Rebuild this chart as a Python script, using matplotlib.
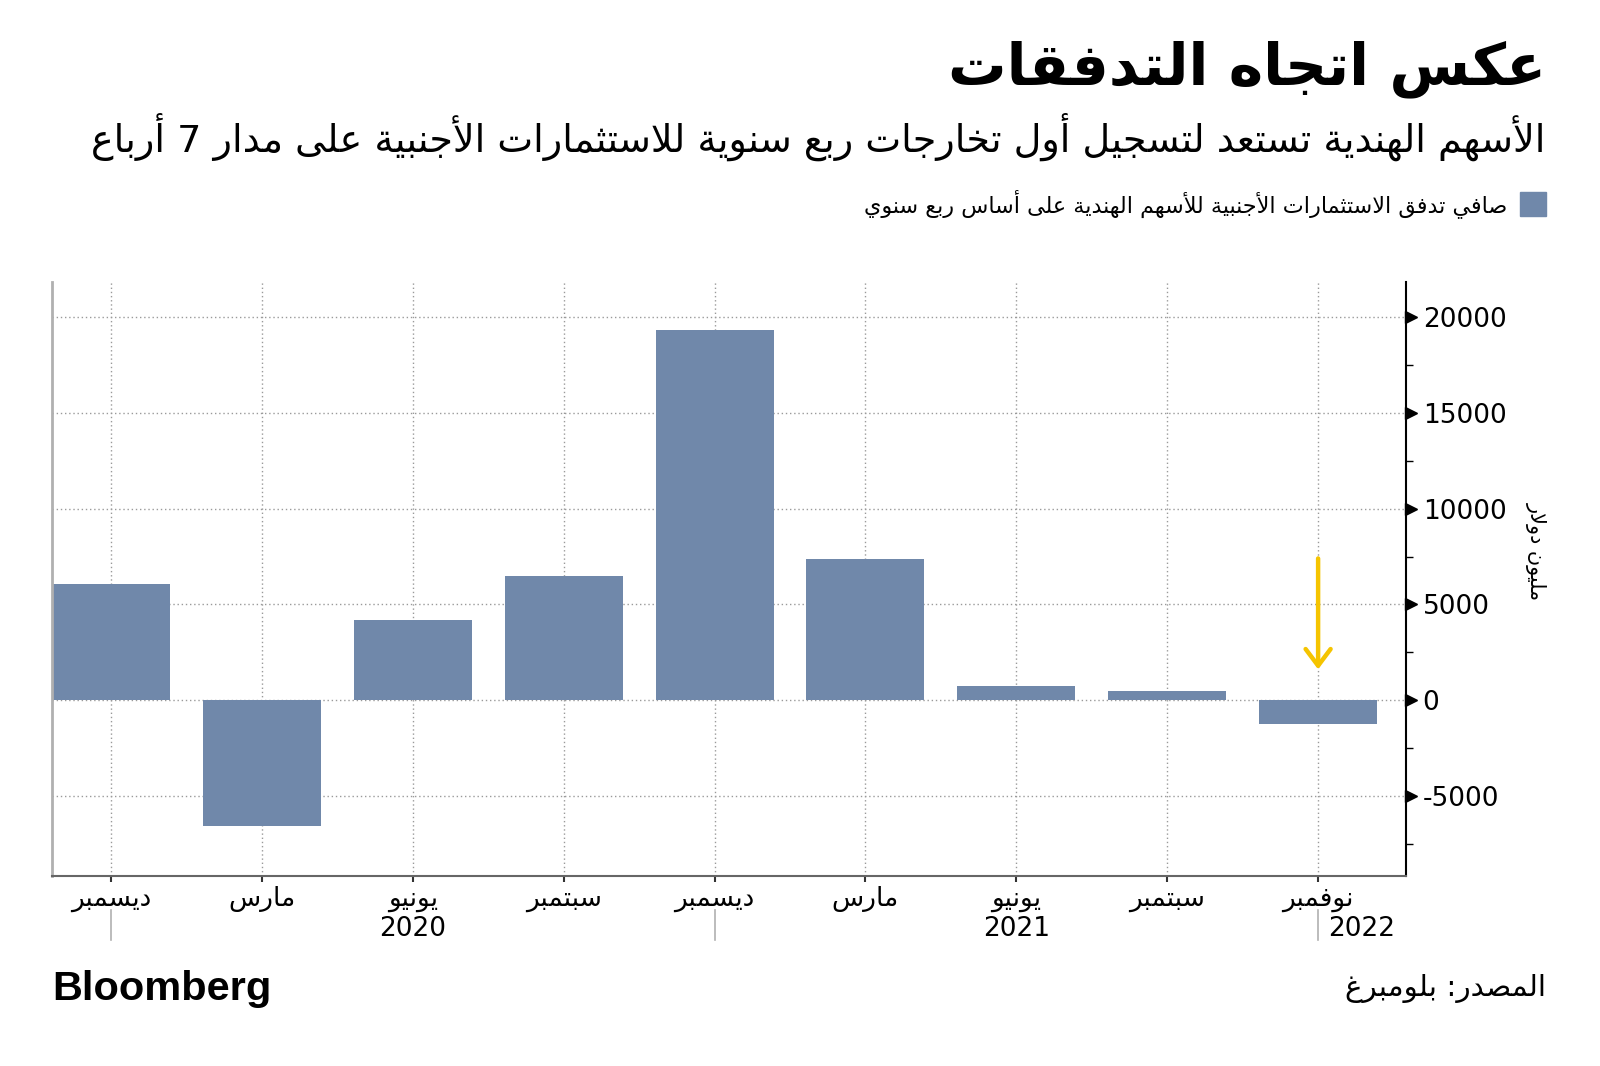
import re
import matplotlib
matplotlib.use('Agg')
import matplotlib.pyplot as plt
import matplotlib.transforms as mtransforms
from matplotlib.patches import Rectangle


# Chart data, million dollars per quarter
months = ['ديسمبر', 'مارس', 'يونيو', 'سبتمبر', 'ديسمبر', 'مارس', 'يونيو', 'سبتمبر', 'نوفمبر']
net_flows = [6080, -6600, 4170, 6500, 19350, 7370, 750, 450, -1270]
year_breaks = [0, 4, 8]
years = ['2020', '2021', '2022']
y_ticks = [-5000, 0, 5000, 10000, 15000, 20000]
y_minor = [-7500, -2500, 2500, 7500, 12500, 17500]
arrow_bar = 8
arrow_from = 7400
arrow_to = 1600

title = 'عكس اتجاه التدفقات'
subtitle = 'الأسهم الهندية تستعد لتسجيل أول تخارجات ربع سنوية للاستثمارات الأجنبية على مدار 7 أرباع'
legend_label = 'صافي تدفق الاستثمارات الأجنبية للأسهم الهندية على أساس ربع سنوي'
y_label = 'مليون دولار'
source = 'المصدر: بلومبرغ'

BAR_COLOR = '#7088aa'
ARROW_COLOR = '#f5c400'


# matplotlib does not shape Arabic, so map letters to presentation forms
# and reverse into visual order ourselves
LETTERS = 'ءآأؤإئابةتثجحخدذرزسشصضطظعغفقكلمنهوىي'
RIGHT_ONLY = 'آأؤإاةدذرزوى'
LAM_ALEF = {'آ': 0xFEF5, 'أ': 0xFEF7, 'إ': 0xFEF9, 'ا': 0xFEFB}
base = {}
code = 0xFE80
for ch in LETTERS:
    base[ch] = code
    code += 1 if ch == 'ء' else (2 if ch in RIGHT_ONLY else 4)


def joins_next(ch):
    return ch in base and ch not in RIGHT_ONLY and ch != 'ء'


def joins_prev(ch):
    return ch in base and ch != 'ء'


def shape(text):
    out = []
    i = 0
    while i < len(text):
        ch = text[i]
        if ch not in base:
            out.append(ch)
            i += 1
            continue
        p = i > 0 and joins_next(text[i - 1])
        nxt = text[i + 1] if i + 1 < len(text) else ''
        if ch == 'ل' and nxt in LAM_ALEF:
            out.append(chr(LAM_ALEF[nxt] + (1 if p else 0)))
            i += 2
            continue
        q = joins_next(ch) and joins_prev(nxt)
        b = base[ch]
        if ch == 'ء':
            out.append(chr(b))
        elif p and q:
            out.append(chr(b + 3))
        elif p:
            out.append(chr(b + 1))
        elif q:
            out.append(chr(b + 2))
        else:
            out.append(chr(b))
        i += 1
    return ''.join(out)


def ar(text):
    parts = re.findall(r'\d+|\D+', shape(text))
    return ''.join(p if p[0].isdigit() else p[::-1] for p in reversed(parts))


plt.rcParams['font.family'] = ['DejaVu Sans']

fig = plt.figure(figsize=(16, 10.66), dpi=100)
ax = fig.add_axes([0.0325, 0.1782, 0.8463, 0.5573])

x = list(range(len(net_flows)))
ax.bar(x, net_flows, width=0.782, color=BAR_COLOR, zorder=2)

ax.set_xlim(-0.391, len(x) - 1 + 0.583)
ax.set_ylim(-9200, 21850)

# grid
ax.grid(True, color='#9a9a9a', linestyle=(0, (1, 2)), linewidth=1, zorder=0)

# spines
ax.spines['top'].set_visible(False)
ax.spines['left'].set_color('#b0b0b0')
ax.spines['left'].set_linewidth(2)
ax.spines['bottom'].set_color('#666666')
ax.spines['bottom'].set_linewidth(1.5)
ax.spines['right'].set_color('black')
ax.spines['right'].set_linewidth(1.5)

# x axis
ax.set_xticks(x)
ax.set_xticklabels([ar(m) for m in months], fontsize=19)
ax.tick_params(axis='x', length=4, width=1.5, color='#333333', pad=3)

blend = mtransforms.blended_transform_factory(ax.transData, ax.transAxes)
for b in year_breaks:
    ax.plot([b, b], [-0.058, -0.108], transform=blend, color='#b0b0b0',
            lw=1.2, clip_on=False)
bounds = year_breaks + [ax.get_xlim()[1]]
for k, yr in enumerate(years):
    ax.text((bounds[k] + bounds[k + 1]) / 2, -0.089, yr, transform=blend,
            ha='center', va='center', fontsize=19)

# y axis on the right, triangle markers for the major ticks
ax.yaxis.tick_right()
ax.set_yticks(y_ticks)
ax.set_yticklabels([str(v) for v in y_ticks], fontsize=19)
ax.set_yticks(y_minor, minor=True)
ax.tick_params(axis='y', which='major', length=0, pad=12)
ax.tick_params(axis='y', which='minor', length=5, width=1, color='black')
ax.tick_params(axis='x', which='minor', length=0)
yblend = mtransforms.blended_transform_factory(ax.transAxes, ax.transData)
tri = mtransforms.offset_copy(yblend, fig=fig, x=5, units='dots')
ax.plot([1] * len(y_ticks), y_ticks, linestyle='none', marker='>',
        markersize=8, color='black', transform=tri, clip_on=False)

ax.text(1.096, 0.547, ar(y_label), transform=ax.transAxes, rotation=-90,
        ha='center', va='center', fontsize=15)

# arrow over the last bar
ax.annotate('', xy=(arrow_bar, arrow_to), xytext=(arrow_bar, arrow_from),
            arrowprops=dict(arrowstyle='->,head_length=0.6,head_width=0.45',
                            color=ARROW_COLOR, lw=3.2, mutation_scale=20,
                            shrinkA=0, shrinkB=0), zorder=4)


# texts around the chart, fitted to the widths of the original
def fit(txt, width_px):
    r = fig.canvas.get_renderer()
    w = txt.get_window_extent(renderer=r).width
    txt.set_fontsize(txt.get_fontsize() * width_px / w)


t = fig.text(0.966, 0.935, ar(title), ha='right', va='center',
             fontsize=44, fontweight='bold')
fit(t, 597)
t = fig.text(0.966, 0.872, ar(subtitle), ha='right', va='center', fontsize=26)
fit(t, 1456)

fig.patches.append(Rectangle((0.950, 0.7974), 0.01625, 0.0225,
                             transform=fig.transFigure, color=BAR_COLOR))
t = fig.text(0.9419, 0.8086, ar(legend_label), ha='right', va='center',
             fontsize=16)
fit(t, 643)

t = fig.text(0.0325, 0.072, 'Bloomberg', ha='left', va='center',
             fontsize=27, fontweight='bold', family=['Liberation Sans'])
fit(t, 219)
t = fig.text(0.966, 0.073, ar(source), ha='right', va='center', fontsize=19)
fit(t, 201)

fig.savefig('out.png', dpi=100, facecolor='white')
